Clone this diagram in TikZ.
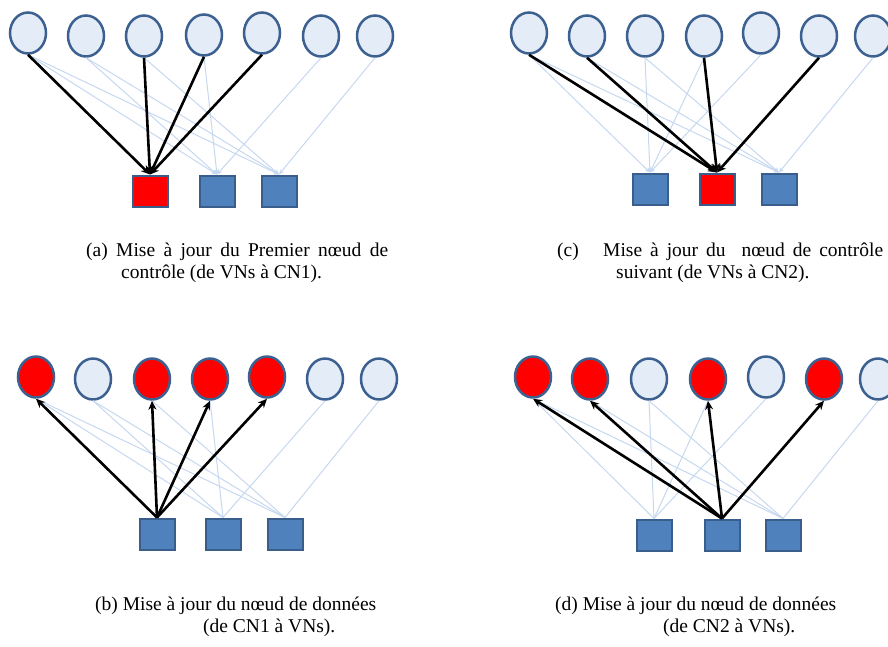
\documentclass[tikz,border=0pt]{standalone}
\usepackage{fontspec}
\setmainfont{Liberation Serif}
\usetikzlibrary{shapes.geometric,arrows.meta}
\definecolor{vnfill}{HTML}{E4ECF8}
\definecolor{vnline}{HTML}{3C6090}
\definecolor{cnfill}{HTML}{4F81BD}
\definecolor{cnline}{HTML}{3A5E8C}
\definecolor{faint}{HTML}{C6D8F0}
\definecolor{hot}{HTML}{FF0000}
\tikzset{
  vn/.style={ellipse, draw=vnline, fill=vnfill, line width=2.5pt,
    minimum width=36pt, minimum height=41pt, inner sep=0pt},
  cn/.style={rectangle, draw=cnline, fill=cnfill, line width=2pt,
    minimum width=35pt, minimum height=31pt, inner sep=0pt},
  active/.style={fill=hot},
  idle/.style={},
  msg/.style={black, line width=2.6pt, -{Stealth[length=9pt,width=8pt]}},
  faintedge/.style={faint, line width=1pt},
  faintarrow/.style={faintedge, -{Stealth[length=5pt,width=4.5pt]}},
  captxt/.style={inner sep=0pt, anchor=base west, font=\fontsize{19.5}{24}\selectfont},
}
\begin{document}
\begin{tikzpicture}[x=1pt,y=-1pt]
\useasboundingbox (0,0) rectangle (888,646);

% ---- (a) variable nodes send to the first check node
\foreach \x/\y/\s [count=\i] in {28/33/idle,86/36/idle,144/36/idle,204/35/idle,262/33/idle,321/36/idle,375/36/idle}
  \node[vn,\s] (a\i) at (\x,\y) {};
\foreach \x/\s [count=\i] in {150/active,217/idle,279/idle}
  \node[cn,\s] (ac\i) at (\x,191) {};
\foreach \v in {1,2,4,6} \draw[faintarrow] (a\v.south) -- (ac2.north);
\foreach \v in {1,2,3,7} \draw[faintarrow] (a\v.south) -- (ac3.north);
\foreach \v in {1,3,4,5} \draw[msg] (a\v.south) -- (ac1.north);

% ---- (c) variable nodes send to the second check node
\foreach \x/\y/\s [count=\i] in {529/33/idle,587/36/idle,645/36/idle,704/36/idle,761/33/idle,819/36/idle,873/36/idle}
  \node[vn,\s] (c\i) at (\x,\y) {};
\foreach \x/\s [count=\i] in {650/idle,717/active,779/idle}
  \node[cn,\s] (cc\i) at (\x,189) {};
\foreach \v in {1,3,4,5} \draw[faintarrow] (c\v.south) -- (cc1.north);
\foreach \v in {1,2,3,7} \draw[faintarrow] (c\v.south) -- (cc3.north);
\foreach \v in {1,2,4,6} \draw[msg] (c\v.south) -- (cc2.north);

% ---- (b) first check node answers its variable nodes
\foreach \x/\y/\s [count=\i] in {36/377/active,93/379/idle,152/379/active,210/379/active,267/377/active,325/379/idle,379/379/idle}
  \node[vn,\s] (b\i) at (\x,\y) {};
\foreach \x [count=\i] in {157,223,285}
  \node[cn] (bc\i) at (\x,534) {};
\foreach \v in {1,2,4,6} \draw[faintedge] (b\v.south) -- (bc2.north);
\foreach \v in {1,2,3,7} \draw[faintedge] (b\v.south) -- (bc3.north);
\foreach \v in {1,3,4,5} \draw[msg] (bc1.north) -- (b\v.south);

% ---- (d) second check node answers its variable nodes
\foreach \x/\y/\s [count=\i] in {533/377/active,590/379/active,649/379/idle,708/379/active,766/377/idle,824/379/active,878/379/idle}
  \node[vn,\s] (d\i) at (\x,\y) {};
\foreach \x [count=\i] in {654,722,783}
  \node[cn] (dc\i) at (\x,535) {};
\foreach \v in {1,3,4,5} \draw[faintedge] (d\v.south) -- (dc1.north);
\foreach \v in {1,2,3,7} \draw[faintedge] (d\v.south) -- (dc3.north);
\foreach \v in {1,2,4,6} \draw[msg] (dc2.north) -- (d\v.south);

% ---- captions (first lines of (a) and (c) are justified)
\node[captxt] (capa) at (86,256) {(a)};
\node[captxt] (capa1) at (116,256) {\hbox to 272pt{Mise à jour du Premier nœud de}};
\node[captxt] (capa2) at (121,278) {contrôle (de VNs à CN1).};
\node[captxt] (capc) at (557,256) {(c)};
\node[captxt] (capc1) at (603,256) {\hbox to 280pt{Mise à jour du\ \ nœud de contrôle}};
\node[captxt] (capc2) at (616,278) {suivant (de VNs à CN2).};
\node[captxt] (capb1) at (95,610) {(b) Mise à jour du nœud de données};
\node[captxt] (capb2) at (203,632) {(de CN1 à VNs).};
\node[captxt] (capd1) at (555,610) {(d) Mise à jour du nœud de données};
\node[captxt] (capd2) at (663,632) {(de CN2 à VNs).};
\end{tikzpicture}
\end{document}
